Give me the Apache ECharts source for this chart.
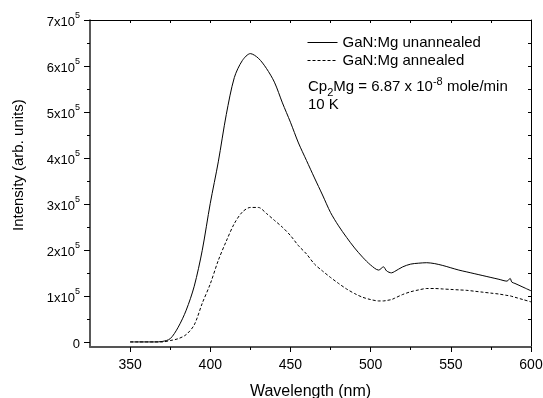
<!DOCTYPE html>
<html>
<head>
<meta charset="utf-8">
<script src="https://cdn.jsdelivr.net/npm/echarts@6.0.0/dist/echarts.min.js"></script>
<style>
  html, body { margin: 0; padding: 0; background: #fff; }
  #chart { width: 543px; height: 398px; }
</style>
</head>
<body>
<div id="chart"></div>
<script>
// wavelength (nm) and PL intensity in units of 1e5
const wavelength = [350, 355, 360, 365, 370, 375, 380, 385, 390, 395, 400, 405, 410, 415, 420, 425, 430, 435, 440, 445,
  450, 455, 460, 465, 470, 475, 480, 485, 490, 495, 500, 505, 508, 510, 513, 515, 520, 525, 530, 535,
  540, 545, 550, 555, 560, 565, 570, 575, 580, 585, 587, 588, 590, 595, 600]
const unannealed = [0.01, 0.01, 0.01, 0.01, 0.02, 0.08, 0.33, 0.70, 1.22, 2.00, 3.02, 3.92, 4.95, 5.75, 6.12, 6.27, 6.17, 5.95, 5.65, 5.20,
  4.78, 4.33, 3.95, 3.57, 3.20, 2.82, 2.53, 2.28, 2.05, 1.85, 1.68, 1.57, 1.64, 1.55, 1.51, 1.54, 1.64, 1.70, 1.72, 1.73,
  1.71, 1.67, 1.62, 1.57, 1.53, 1.49, 1.45, 1.41, 1.37, 1.33, 1.39, 1.31, 1.28, 1.20, 1.12]
const annealed = [0.01, 0.01, 0.01, 0.01, 0.01, 0.04, 0.08, 0.17, 0.38, 0.85, 1.27, 1.78, 2.20, 2.58, 2.83, 2.93, 2.93, 2.80, 2.65, 2.50,
  2.32, 2.10, 1.92, 1.70, 1.55, 1.41, 1.28, 1.16, 1.06, 0.98, 0.93, 0.90, 0.90, 0.91, 0.93, 0.96, 1.04, 1.10, 1.14, 1.17,
  1.17, 1.16, 1.15, 1.14, 1.13, 1.11, 1.09, 1.07, 1.05, 1.02, 1.01, 1.00, 0.98, 0.93, 0.88]
const xTicks = [350, 400, 450, 500, 550, 600]
const xMinorTicks = [375, 425, 475, 525, 575]
const yTicks = [0, 1, 2, 3, 4, 5, 6, 7]
const yMinorTicks = [0.5, 1.5, 2.5, 3.5, 4.5, 5.5, 6.5]
const xAllTicks = [350, 375, 400, 425, 450, 475, 500, 525, 550, 575]
const yAllTicks = [0.5, 1, 1.5, 2, 2.5, 3, 3.5, 4, 4.5, 5, 5.5, 6, 6.5]

const font = 'Liberation Sans, Arial, sans-serif'
const myChart = echarts.init(document.getElementById('chart'))

const xRange = { min: 325, max: 600 }
const yRange = { min: -0.1, max: 7 }

myChart.setOption({
  animation: false,
  grid: { left: 90, right: 12, top: 20, bottom: 51, containLabel: false, outerBoundsMode: 'none' },
  legend: {
    orient: 'vertical',
    left: 302,
    top: 30,
    itemWidth: 30,
    itemHeight: 14,
    itemGap: 3,
    itemStyle: { opacity: 0 },
    lineStyle: { width: 1 },
    textStyle: { fontFamily: font, fontSize: 15, color: '#000' },
    data: ['GaN:Mg unannealed', 'GaN:Mg annealed'],
  },
  xAxis: [
    {
      type: 'value',
      ...xRange,
      name: 'Wavelength (nm)',
      nameLocation: 'middle',
      nameGap: 37,
      nameTextStyle: { fontFamily: font, fontSize: 16, color: '#000' },
      axisLine: { onZero: false, lineStyle: { color: '#555', width: 2 } },
      axisTick: { customValues: xTicks, length: 5, lineStyle: { color: '#000' } },
      axisLabel: { customValues: xTicks, margin: 11, fontFamily: font, fontSize: 14, color: '#000' },
      splitLine: { show: false },
    },
    {
      // minor ticks on bottom
      type: 'value',
      ...xRange,
      position: 'bottom',
      axisLine: { show: false, onZero: false },
      axisTick: { customValues: xMinorTicks, length: 3, lineStyle: { color: '#000' } },
      axisLabel: { show: false },
      splitLine: { show: false },
    },
    {
      // top frame
      type: 'value',
      ...xRange,
      position: 'top',
      axisLine: { onZero: false, lineStyle: { color: '#000', width: 1 } },
      axisTick: { inside: true, customValues: xAllTicks, length: 3, lineStyle: { color: '#000' } },
      axisLabel: { show: false },
      splitLine: { show: false },
    },
  ],
  yAxis: [
    {
      type: 'value',
      ...yRange,
      axisLine: { onZero: false, lineStyle: { color: '#222', width: 1.5 } },
      axisTick: { customValues: yTicks, length: 6, lineStyle: { color: '#000' } },
      axisLabel: {
        customValues: yTicks,
        margin: 10,
        fontFamily: font,
        fontSize: 13,
        color: '#000',
        formatter: function (v) {
          return v === 0 ? '{a|0}' : '{a|' + v + 'x10}{sup|5}'
        },
        rich: {
          a: { fontFamily: font, fontSize: 13, color: '#000', lineHeight: 18, verticalAlign: 'bottom' },
          sup: { fontFamily: font, fontSize: 9, color: '#000', lineHeight: 18, verticalAlign: 'top' },
        },
      },
      splitLine: { show: false },
    },
    {
      // minor ticks on left
      type: 'value',
      ...yRange,
      position: 'left',
      axisLine: { show: false, onZero: false },
      axisTick: { customValues: yMinorTicks, length: 3, lineStyle: { color: '#000' } },
      axisLabel: { show: false },
      splitLine: { show: false },
    },
    {
      // right frame
      type: 'value',
      ...yRange,
      position: 'right',
      axisLine: { show: true, onZero: false, lineStyle: { color: '#000', width: 1 } },
      axisTick: { inside: true, customValues: yAllTicks, length: 3, lineStyle: { color: '#000' } },
      axisLabel: { show: false },
      splitLine: { show: false },
    },
  ],
  graphic: [
    {
      type: 'text',
      x: 11,
      y: 231,
      rotation: Math.PI / 2,
      style: {
        text: 'Intensity (arb. units)',
        font: '15px ' + font,
        fill: '#000',
      },
    },
    {
      type: 'text',
      x: 308,
      y: 76,
      style: {
        text: '{a|Cp}{sub|2}{a|Mg = 6.87 x 10}{sup|-8}{a| mole/min}',
        font: '15px ' + font,
        fill: '#000',
        rich: {
          a: { font: '15px ' + font, fill: '#000', lineHeight: 22, verticalAlign: 'middle' },
          sub: { font: '11px ' + font, fill: '#000', lineHeight: 22, verticalAlign: 'bottom' },
          sup: { font: '11px ' + font, fill: '#000', lineHeight: 22, verticalAlign: 'top' },
        },
      },
    },
    {
      type: 'text',
      x: 308,
      y: 97,
      style: { text: '10 K', font: '15px ' + font, fill: '#000' },
    },
  ],
  series: [
    {
      name: 'GaN:Mg unannealed',
      type: 'line',
      xAxisIndex: 0,
      yAxisIndex: 0,
      symbol: 'none',
      smooth: 0.3,
      lineStyle: { color: '#000', width: 1 },
      itemStyle: { color: '#000' },
      data: wavelength.map((w, i) => [w, unannealed[i]]),
    },
    {
      name: 'GaN:Mg annealed',
      type: 'line',
      xAxisIndex: 0,
      yAxisIndex: 0,
      symbol: 'none',
      smooth: 0.3,
      lineStyle: { color: '#000', width: 1, type: [3, 2] },
      itemStyle: { color: '#000' },
      data: wavelength.map((w, i) => [w, annealed[i]]),
    },
  ],
})
</script>
</body>
</html>
